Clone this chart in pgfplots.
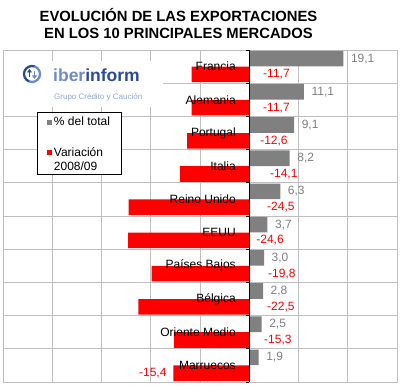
\documentclass[border=0pt]{standalone}
\usepackage{pgfplots}
\pgfplotsset{compat=1.18}
\usepackage{fontspec}
\setmainfont{Liberation Sans}
\usetikzlibrary{arrows.meta}
\definecolor{gridgray}{HTML}{BFBFBF}
\definecolor{barGray}{HTML}{808080}
\definecolor{barRed}{HTML}{FF0000}
\definecolor{iberLight}{HTML}{6F8CC6}
\definecolor{iberDark}{HTML}{2C4B94}
\definecolor{iberSub}{HTML}{93A6D0}
\newcommand\lblfont{\fontsize{12bp}{14bp}\selectfont}
\pgfplotsset{labelplot/.style={draw=none, mark=none, forget plot,
  nodes near coords, point meta=explicit symbolic}}
\begin{document}
\begin{tikzpicture}
\useasboundingbox (0bp,0bp) rectangle (400bp,388bp);
\begin{axis}[
  at={(3bp,6bp)}, anchor=south west,
  scale only axis, width=394bp, height=332bp,
  xmin=-50, xmax=30, ymin=-0.5, ymax=9.5, y dir=reverse,
  xtick={-50,-40,-30,-20,-10,0,10,20,30}, xticklabels={},
  ytick={-0.5,0.5,1.5,2.5,3.5,4.5,5.5,6.5,7.5,8.5,9.5}, yticklabels={},
  major tick length=0pt,
  grid=major, grid style={draw=gridgray, line width=0.9bp},
  axis line style={draw=gridgray, line width=0.9bp},
  legend cell align=left,
  legend style={at={(0.0863,0.813)}, anchor=north west, draw=black, line width=0.9bp,
    fill=white, font=\lblfont, inner xsep=4bp, inner ysep=3bp, row sep=17bp,
    nodes={inner sep=1.5bp}},
]
% % del total
\addplot[xbar, bar width=0.47, bar shift=-0.24, fill=barGray, draw=none,
  legend image code/.code={\path (0bp,0bp); \fill[barGray] (6bp,-2.5bp) rectangle (11bp,2.5bp);}]
coordinates {
(19.1,0) (11.1,1) (9.1,2) (8.2,3) (6.3,4) (3.7,5) (3.0,6) (2.8,7) (2.5,8) (1.9,9)
};
\addlegendentry{\% del total}
% Variacion 2008/09
\addplot[xbar, bar width=0.47, bar shift=0.235, fill=barRed, draw=none,
  legend image code/.code={\path (0bp,0bp) (0bp,-19bp); \fill[barRed] (6bp,-2.5bp) rectangle (11bp,2.5bp);}]
coordinates {
(-11.7,0) (-11.7,1) (-12.6,2) (-14.1,3) (-24.5,4) (-24.6,5) (-19.8,6) (-22.5,7) (-15.3,8) (-15.4,9)
};
\addlegendentry{\parbox[t]{62bp}{Variación\\2008/09}}
% axis line at zero
\addplot[black, line width=1.1bp, forget plot] coordinates {(0,-0.5) (0,9.5)};
\addplot[only marks, mark=-, mark size=1.6bp, mark options={black, line width=0.8bp, xshift=-1.6bp}, forget plot]
coordinates {(0,-0.5) (0,0.5) (0,1.5) (0,2.5) (0,3.5) (0,4.5) (0,5.5) (0,6.5) (0,7.5) (0,8.5) (0,9.5)};
% gray value labels (at bar ends)
\addplot[labelplot,
  nodes near coords style={anchor=west, xshift=7.5bp, inner sep=0pt, font=\lblfont, text=barGray}]
coordinates {
(19.1,-0.24) [19,1]
(11.1,0.76) [11,1]
(9.1,1.76) [9,1]
(8.2,2.76) [8,2]
(6.3,3.76) [6,3]
(3.7,4.76) [3,7]
(3.0,5.76) [3,0]
(2.8,6.76) [2,8]
(2.5,7.76) [2,5]
(1.9,8.76) [1,9]
};
% red value labels
\addplot[labelplot,
  nodes near coords style={anchor=west, inner sep=0pt, font=\lblfont, text=barRed}]
coordinates {
(2.8,0.24) [-11,7]
(2.8,1.24) [-11,7]
(2.2,2.24) [-12,6]
(4.2,3.24) [-14,1]
(3.6,4.24) [-24,5]
(1.4,5.24) [-24,6]
(3.8,6.24) [-19,8]
(3.6,7.24) [-22,5]
(3.0,8.24) [-15,3]
(-22.4,9.24) [-15,4]
};
% category labels
\addplot[labelplot,
  nodes near coords style={anchor=east, inner sep=0pt, font=\lblfont, text=black}]
coordinates {
(-2.7,0) [Francia]
(-2.7,1) [Alemania]
(-2.7,2) [Portugal]
(-2.7,3) [Italia]
(-2.7,4) [Reino Unido]
(-2.7,5) [EEUU]
(-2.7,6) [Países Bajos]
(-2.7,7) [Bélgica]
(-2.7,8) [Oriente Medio]
(-2.7,9) [Marruecos]
};
\end{axis}
% title
\node[align=center, font=\fontsize{14.8bp}{17bp}\selectfont\bfseries] at (178.5bp,364bp)
  {EVOLUCIÓN DE LAS EXPORTACIONES\\EN LOS 10 PRINCIPALES MERCADOS};
% logo
\fill[white] (4bp,281bp) rectangle (163bp,327bp);
\begin{scope}[shift={(32bp,314bp)}]
  \draw[iberDark, line width=2.3bp] (70:8bp) arc (70:250:8bp);
  \draw[iberLight, line width=2.3bp] (250:8bp) arc (250:430:8bp);
  \draw[iberDark, line width=1.6bp, -{Triangle[length=3.5bp,width=5bp]}] (-2.5bp,-3bp) -- (-2.5bp,5bp);
  \draw[iberLight, line width=1.6bp, -{Triangle[length=3.5bp,width=5bp]}] (2.5bp,3bp) -- (2.5bp,-5bp);
\end{scope}
\node[anchor=base west, inner sep=0pt, font=\fontsize{17.5bp}{19bp}\selectfont\bfseries] at (53bp,306.5bp)
  {\textcolor{iberLight}{iber}\textcolor{iberDark}{inform}};
\node[anchor=base west, inner sep=0pt, font=\fontsize{8bp}{9bp}\selectfont, text=iberSub] at (54bp,288.5bp)
  {Grupo Crédito y Caución};
\end{tikzpicture}
\end{document}
